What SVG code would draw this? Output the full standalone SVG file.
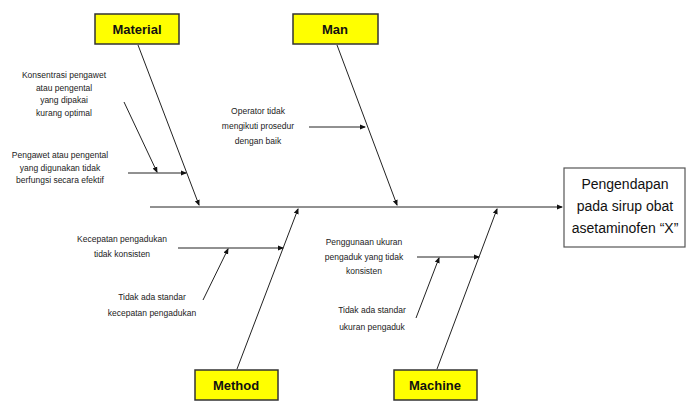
<svg xmlns="http://www.w3.org/2000/svg" width="687" height="401" viewBox="0 0 687 401">
<style>
.cat rect{fill:#ffff00;stroke:#333;stroke-width:1.5}
.cat text{font-family:"Liberation Sans",Arial,sans-serif;font-weight:bold;font-size:13px;fill:#111;text-anchor:middle}
.lbl{font-family:"Liberation Sans",Arial,sans-serif;font-size:8.5px;fill:#222;text-anchor:middle}
.eff text{font-family:"Liberation Sans",Arial,sans-serif;font-size:14px;fill:#111;text-anchor:middle}
#connectors line{stroke:#222;stroke-width:1}
</style>
<defs>
<marker id="ah" markerWidth="6" markerHeight="6" refX="5" refY="3" orient="auto" markerUnits="userSpaceOnUse">
<path d="M0,0.5 L6,3 L0,5.5 Z" fill="#111"/>
</marker>
</defs>
<rect width="687" height="401" fill="#fff"/>
<g id="connectors">
<line x1="150" y1="207" x2="562" y2="207" marker-end="url(#ah)"/>
<line x1="138" y1="45" x2="199" y2="205" marker-end="url(#ah)"/>
<line x1="337" y1="45" x2="397" y2="205" marker-end="url(#ah)"/>
<line x1="237" y1="369" x2="298" y2="209" marker-end="url(#ah)"/>
<line x1="437" y1="369" x2="497" y2="209" marker-end="url(#ah)"/>
<line x1="128" y1="173" x2="186" y2="173" marker-end="url(#ah)"/>
<line x1="124" y1="102" x2="157" y2="172" marker-end="url(#ah)"/>
<line x1="309" y1="127" x2="365" y2="127" marker-end="url(#ah)"/>
<line x1="178" y1="248" x2="283" y2="248" marker-end="url(#ah)"/>
<line x1="203" y1="300" x2="228" y2="249" marker-end="url(#ah)"/>
<line x1="417" y1="257" x2="479" y2="257" marker-end="url(#ah)"/>
<line x1="416" y1="318" x2="439" y2="258" marker-end="url(#ah)"/>
</g>
<g id="material" class="cat"><rect x="95" y="14" width="84" height="30"/><text x="137" y="34">Material</text></g>
<g id="man" class="cat"><rect x="293" y="14" width="85" height="30"/><text x="335" y="34">Man</text></g>
<g id="method" class="cat"><rect x="195" y="370" width="83" height="30"/><text x="236" y="390">Method</text></g>
<g id="machine" class="cat"><rect x="394" y="370" width="83" height="30"/><text x="435" y="390">Machine</text></g>
<g id="effect" class="eff"><rect x="564" y="168" width="121" height="79" fill="#fff" stroke="#555" stroke-width="1.2"/>
<text x="625" y="189">Pengendapan</text>
<text x="625" y="211">pada sirup obat</text>
<text x="625" y="233">asetaminofen “X”</text></g>
<g id="c1"><text class="lbl"><tspan x="64" y="78">Konsentrasi pengawet</tspan><tspan x="64" y="90.5">atau pengental</tspan><tspan x="64" y="103">yang dipakai</tspan><tspan x="64" y="115.5">kurang optimal</tspan></text></g>
<g id="c2"><text class="lbl"><tspan x="60" y="158">Pengawet atau pengental</tspan><tspan x="60" y="170.5">yang digunakan tidak</tspan><tspan x="60" y="183">berfungsi secara efektif</tspan></text></g>
<g id="c3"><text class="lbl"><tspan x="258" y="114">Operator tidak</tspan><tspan x="258" y="129">mengikuti prosedur</tspan><tspan x="258" y="144">dengan baik</tspan></text></g>
<g id="c4"><text class="lbl"><tspan x="122" y="242">Kecepatan pengadukan</tspan><tspan x="122" y="257">tidak konsisten</tspan></text></g>
<g id="c5"><text class="lbl"><tspan x="152" y="300">Tidak ada standar</tspan><tspan x="152" y="316">kecepatan pengadukan</tspan></text></g>
<g id="c6"><text class="lbl"><tspan x="364" y="245">Penggunaan ukuran</tspan><tspan x="364" y="260">pengaduk yang tidak</tspan><tspan x="364" y="274">konsisten</tspan></text></g>
<g id="c7"><text class="lbl"><tspan x="372" y="313">Tidak ada standar</tspan><tspan x="372" y="330">ukuran pengaduk</tspan></text></g>
</svg>
